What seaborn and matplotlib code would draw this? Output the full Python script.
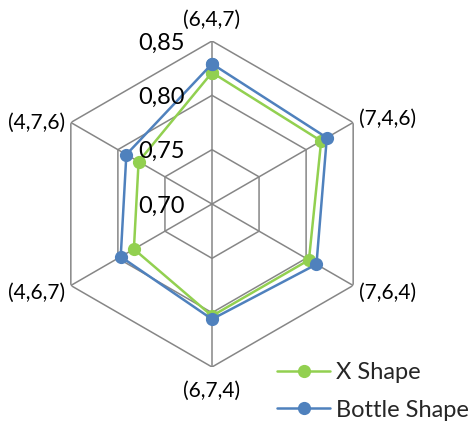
import numpy as np
import pandas as pd
import matplotlib
matplotlib.use("Agg")
import matplotlib.pyplot as plt
import seaborn as sns
from matplotlib.lines import Line2D

categories = ["(6,4,7)", "(7,4,6)", "(7,6,4)", "(6,7,4)", "(4,6,7)", "(4,7,6)"]
x_shape = [0.821, 0.816, 0.803, 0.803, 0.783, 0.778]
bottle_shape = [0.829, 0.822, 0.811, 0.806, 0.797, 0.791]
series_names = ["X Shape", "Bottle Shape"]
r_ticks = [0.70, 0.75, 0.80, 0.85]
r_tick_labels = ["0,70", "0,75", "0,80", "0,85"]

colors = {"X Shape": "#92D050", "Bottle Shape": "#4F81BD"}
grid_color = "#868686"

sns.set_style("white")
plt.rcParams["font.family"] = ["Lato", "DejaVu Sans"]

n = len(categories)
angles = [i * 2 * np.pi / n for i in range(n)]

rows = []
for name, vals in zip(series_names, [x_shape, bottle_shape]):
    for k in list(range(n)) + [0]:
        rows.append({"series": name, "theta": angles[k], "value": vals[k]})
df = pd.DataFrame(rows)

fig = plt.figure(figsize=(4.76, 4.26), dpi=100)
cx, cy, R = 212, 204, 163
ax = fig.add_axes([(cx - R) / 476, (426 - cy - R) / 426, 2 * R / 476, 2 * R / 426],
                  projection="polar")
ax.set_theta_zero_location("N")
ax.set_theta_direction(-1)
ax.set_ylim(r_ticks[0], r_ticks[-1])
ax.grid(False)
ax.spines["polar"].set_visible(False)
ax.set_xticks([])
ax.set_yticks([])
ax.set_facecolor("none")

closed = angles + [angles[0]]
for lv in r_ticks[1:]:
    ax.plot(closed, [lv] * len(closed), color=grid_color, lw=1.1, zorder=1)
for a in angles:
    ax.plot([a, a], [r_ticks[0], r_ticks[-1]], color=grid_color, lw=1.1, zorder=1)

sns.lineplot(data=df, x="theta", y="value", hue="series", hue_order=series_names,
             palette=colors, sort=False, estimator=None, units="series",
             marker="o", markersize=9.5, markeredgewidth=0, linewidth=1.8,
             ax=ax, legend=False, zorder=3)
ax.set_xlabel("")
ax.set_ylabel("")
ax.set_ylim(r_ticks[0], r_ticks[-1])

for v, lab in zip(r_ticks, r_tick_labels):
    ax.annotate(lab, xy=(0, v), xytext=(-27, -8.5), textcoords="offset pixels",
                ha="right", va="baseline", fontsize=17, color="black", zorder=5)

offsets = [(0, 21, "center", "center"), (6, 4, "left", "center"),
           (6, -7, "left", "center"), (0, -24, "center", "center"),
           (-6, -7, "right", "center"), (-6, 0, "right", "center")]
for a, lab, (dx, dy, ha, va) in zip(angles, categories, offsets):
    ax.annotate(lab, xy=(a, r_ticks[-1]), xytext=(dx, dy), textcoords="offset pixels",
                ha=ha, va=va, fontsize=15, color="black", annotation_clip=False)

handles = [Line2D([], [], color=colors[s], lw=1.8, marker="o", markersize=9.5,
                  markeredgewidth=0) for s in series_names]
fig.legend(handles, series_names, loc="upper left",
           bbox_to_anchor=(277 / 476, 1 - 362 / 426), frameon=False,
           fontsize=17, handlelength=2.25, handletextpad=0.25, borderpad=0,
           borderaxespad=0, labelspacing=0.7)

fig.savefig("out.png", dpi=100)
